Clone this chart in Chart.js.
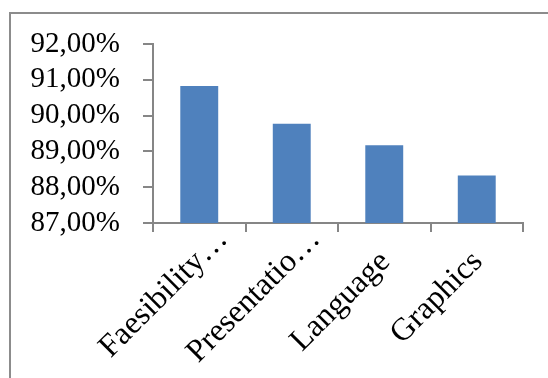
<!DOCTYPE html>
<html>
<head>
<meta charset="utf-8">
<script src="https://cdn.jsdelivr.net/npm/chart.js@4/dist/chart.umd.min.js"></script>
<style>
  html, body { margin: 0; padding: 0; background: #fff; overflow: hidden; }
  #wrap { position: relative; width: 548px; height: 378px; }
  #frame {
    position: absolute; left: 9px; top: 12px; width: 560px; height: 400px;
    border-left: 2px solid #8c8c8c; border-top: 2px solid #8c8c8c;
    box-sizing: border-box; pointer-events: none;
  }
  canvas { position: absolute; left: 0; top: 0; }
</style>
</head>
<body>
<div id="wrap">
  <div id="frame"></div>
  <canvas id="c" width="548" height="378"></canvas>
</div>
<script>
// Assessment aspects and their scores (percent)
const categories = ['Faesibility…', 'Presentatio…', 'Language', 'Graphics'];
const scores = [90.83, 89.77, 89.17, 88.33];
const yTicks = [87, 88, 89, 90, 91, 92];

const axisGrey = '#868686';
const serif = "'Liberation Serif', 'Times New Roman', serif";
const labelFontSize = 32;

// Category labels drawn at 45°, right end anchored under each category;
// a trailing ellipsis hangs past the anchor instead of pushing the text back.
const slantedLabels = {
  id: 'slantedLabels',
  afterDraw(chart) {
    const xs = chart.scales.x;
    const ctx = chart.ctx;
    ctx.save();
    ctx.font = labelFontSize + 'px ' + serif;
    ctx.fillStyle = '#000';
    ctx.textAlign = 'left';
    ctx.textBaseline = 'middle';
    xs.ticks.forEach((t, i) => {
      const label = String(chart.data.labels[i]);
      const body = label.endsWith('…') ? label.slice(0, -1) : label;
      const w = ctx.measureText(body).width;
      ctx.save();
      ctx.translate(xs.getPixelForTick(i) + 1, xs.top + 34);
      ctx.rotate(-Math.PI / 4);
      ctx.fillText(label, -w, 0);
      ctx.restore();
    });
    ctx.restore();
  }
};

new Chart(document.getElementById('c'), {
  type: 'bar',
  data: {
    labels: categories,
    datasets: [{
      data: scores,
      backgroundColor: '#4f81bd',
      borderWidth: 0,
      categoryPercentage: 1,
      barPercentage: 0.41
    }]
  },
  plugins: [slantedLabels],
  options: {
    responsive: false,
    animation: false,
    devicePixelRatio: 1,
    layout: { padding: { top: 44, right: 25, left: 0, bottom: 0 } },
    plugins: { legend: { display: false }, tooltip: { enabled: false } },
    scales: {
      y: {
        min: yTicks[0],
        max: yTicks[yTicks.length - 1],
        afterBuildTicks: s => { s.ticks = yTicks.map(v => ({ value: v })); },
        afterFit: s => { s.width = 153; },
        border: { display: true, color: axisGrey, width: 2 },
        grid: { drawOnChartArea: false, drawTicks: true, tickLength: 10, color: axisGrey, lineWidth: 2 },
        ticks: {
          autoSkip: false,
          padding: 23,
          color: '#000',
          font: { family: serif, size: 29 },
          callback: v => v.toFixed(2).replace('.', ',') + '%'
        }
      },
      x: {
        afterFit: s => { s.height = 378 - 223; },
        border: { display: true, color: axisGrey, width: 2 },
        grid: { drawOnChartArea: false, drawTicks: true, tickLength: 9, color: axisGrey, lineWidth: 2, offset: true },
        ticks: { display: false, autoSkip: false }
      }
    }
  }
});
</script>
</body>
</html>
